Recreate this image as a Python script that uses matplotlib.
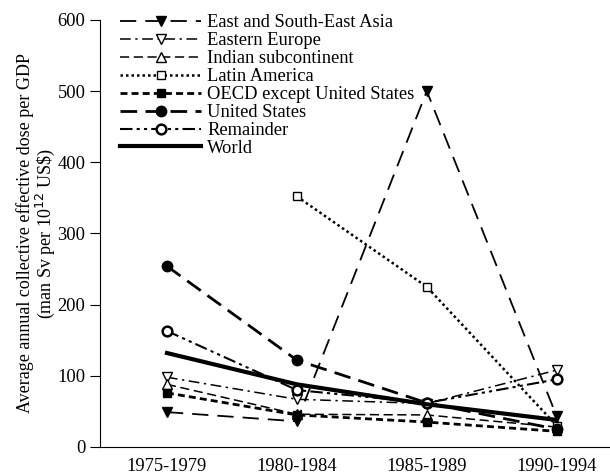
import numpy as np
import matplotlib.pyplot as plt

plt.rcParams['font.family'] = ['Liberation Serif', 'DejaVu Serif']
plt.rcParams['font.size'] = 13.3

periods = ['1975-1979', '1980-1984', '1985-1989', '1990-1994']
east_asia = [49, 36, 500, 43]
eastern_europe = [98, 67, 61, 108]
indian = [88, 46, 45, 28]
latin_america = [np.nan, 352, 225, 30]
oecd = [76, 45, 35, 22]
united_states = [254, 122, 62, 25]
remainder = [163, 80, 62, 95]
world = [132, 88, 60, 38]

x = np.arange(len(periods))

fig = plt.figure(figsize=(6.1, 4.74), dpi=100)
ax = fig.add_axes([0.164, 0.057, 0.836, 0.901])

ax.plot(x, east_asia, color='k', lw=1.3, ls=(0, (9, 5)), marker='v', ms=7,
        mfc='k', label='East and South-East Asia')
ax.plot(x, eastern_europe, color='k', lw=1.1, ls=(0, (7, 3, 1.5, 3)), marker='v',
        ms=7, mfc='white', label='Eastern Europe')
ax.plot(x, indian, color='k', lw=1.1, ls=(0, (6, 3)), marker='^', ms=7,
        mfc='white', label='Indian subcontinent')
ax.plot(x, latin_america, color='k', lw=1.8, ls=(0, (1, 1.2)), marker='s', ms=6,
        mfc='white', mew=1.0, label='Latin America')
ax.plot(x, oecd, color='k', lw=2.0, ls=(0, (2.5, 1.5)), marker='s', ms=6,
        mfc='k', label='OECD except United States')
ax.plot(x, united_states, color='k', lw=2.0, ls=(0, (6, 3)), marker='o', ms=7.5,
        mfc='k', label='United States')
ax.plot(x, remainder, color='k', lw=1.5, ls=(0, (6, 2, 1.5, 2, 1.5, 2)), marker='o',
        ms=7, mfc='white', mew=1.8, label='Remainder')
ax.plot(x, world, color='k', lw=3.0, ls='-', label='World')

ax.set_xlim(-0.515, 3.41)
ax.set_ylim(0, 600)
ax.set_yticks(range(0, 601, 100))
ax.set_xticks(x)
ax.set_xticklabels(periods)
ax.tick_params(axis='x', length=0, pad=8)
ax.tick_params(axis='y', direction='out', length=7)
ax.spines['top'].set_visible(False)
ax.spines['right'].set_visible(False)
ax.set_ylabel('Average annual collective effective dose per GDP\n'
              '(man Sv per 10$^{12}$ US\\$)', labelpad=0, fontsize=13,
              linespacing=1.0)

ax.legend(loc='upper left', bbox_to_anchor=(0.025, 1.03), frameon=False,
          handlelength=4.4, handletextpad=0.3, labelspacing=0.05,
          borderaxespad=0.0)

fig.savefig('out.png', dpi=100)
